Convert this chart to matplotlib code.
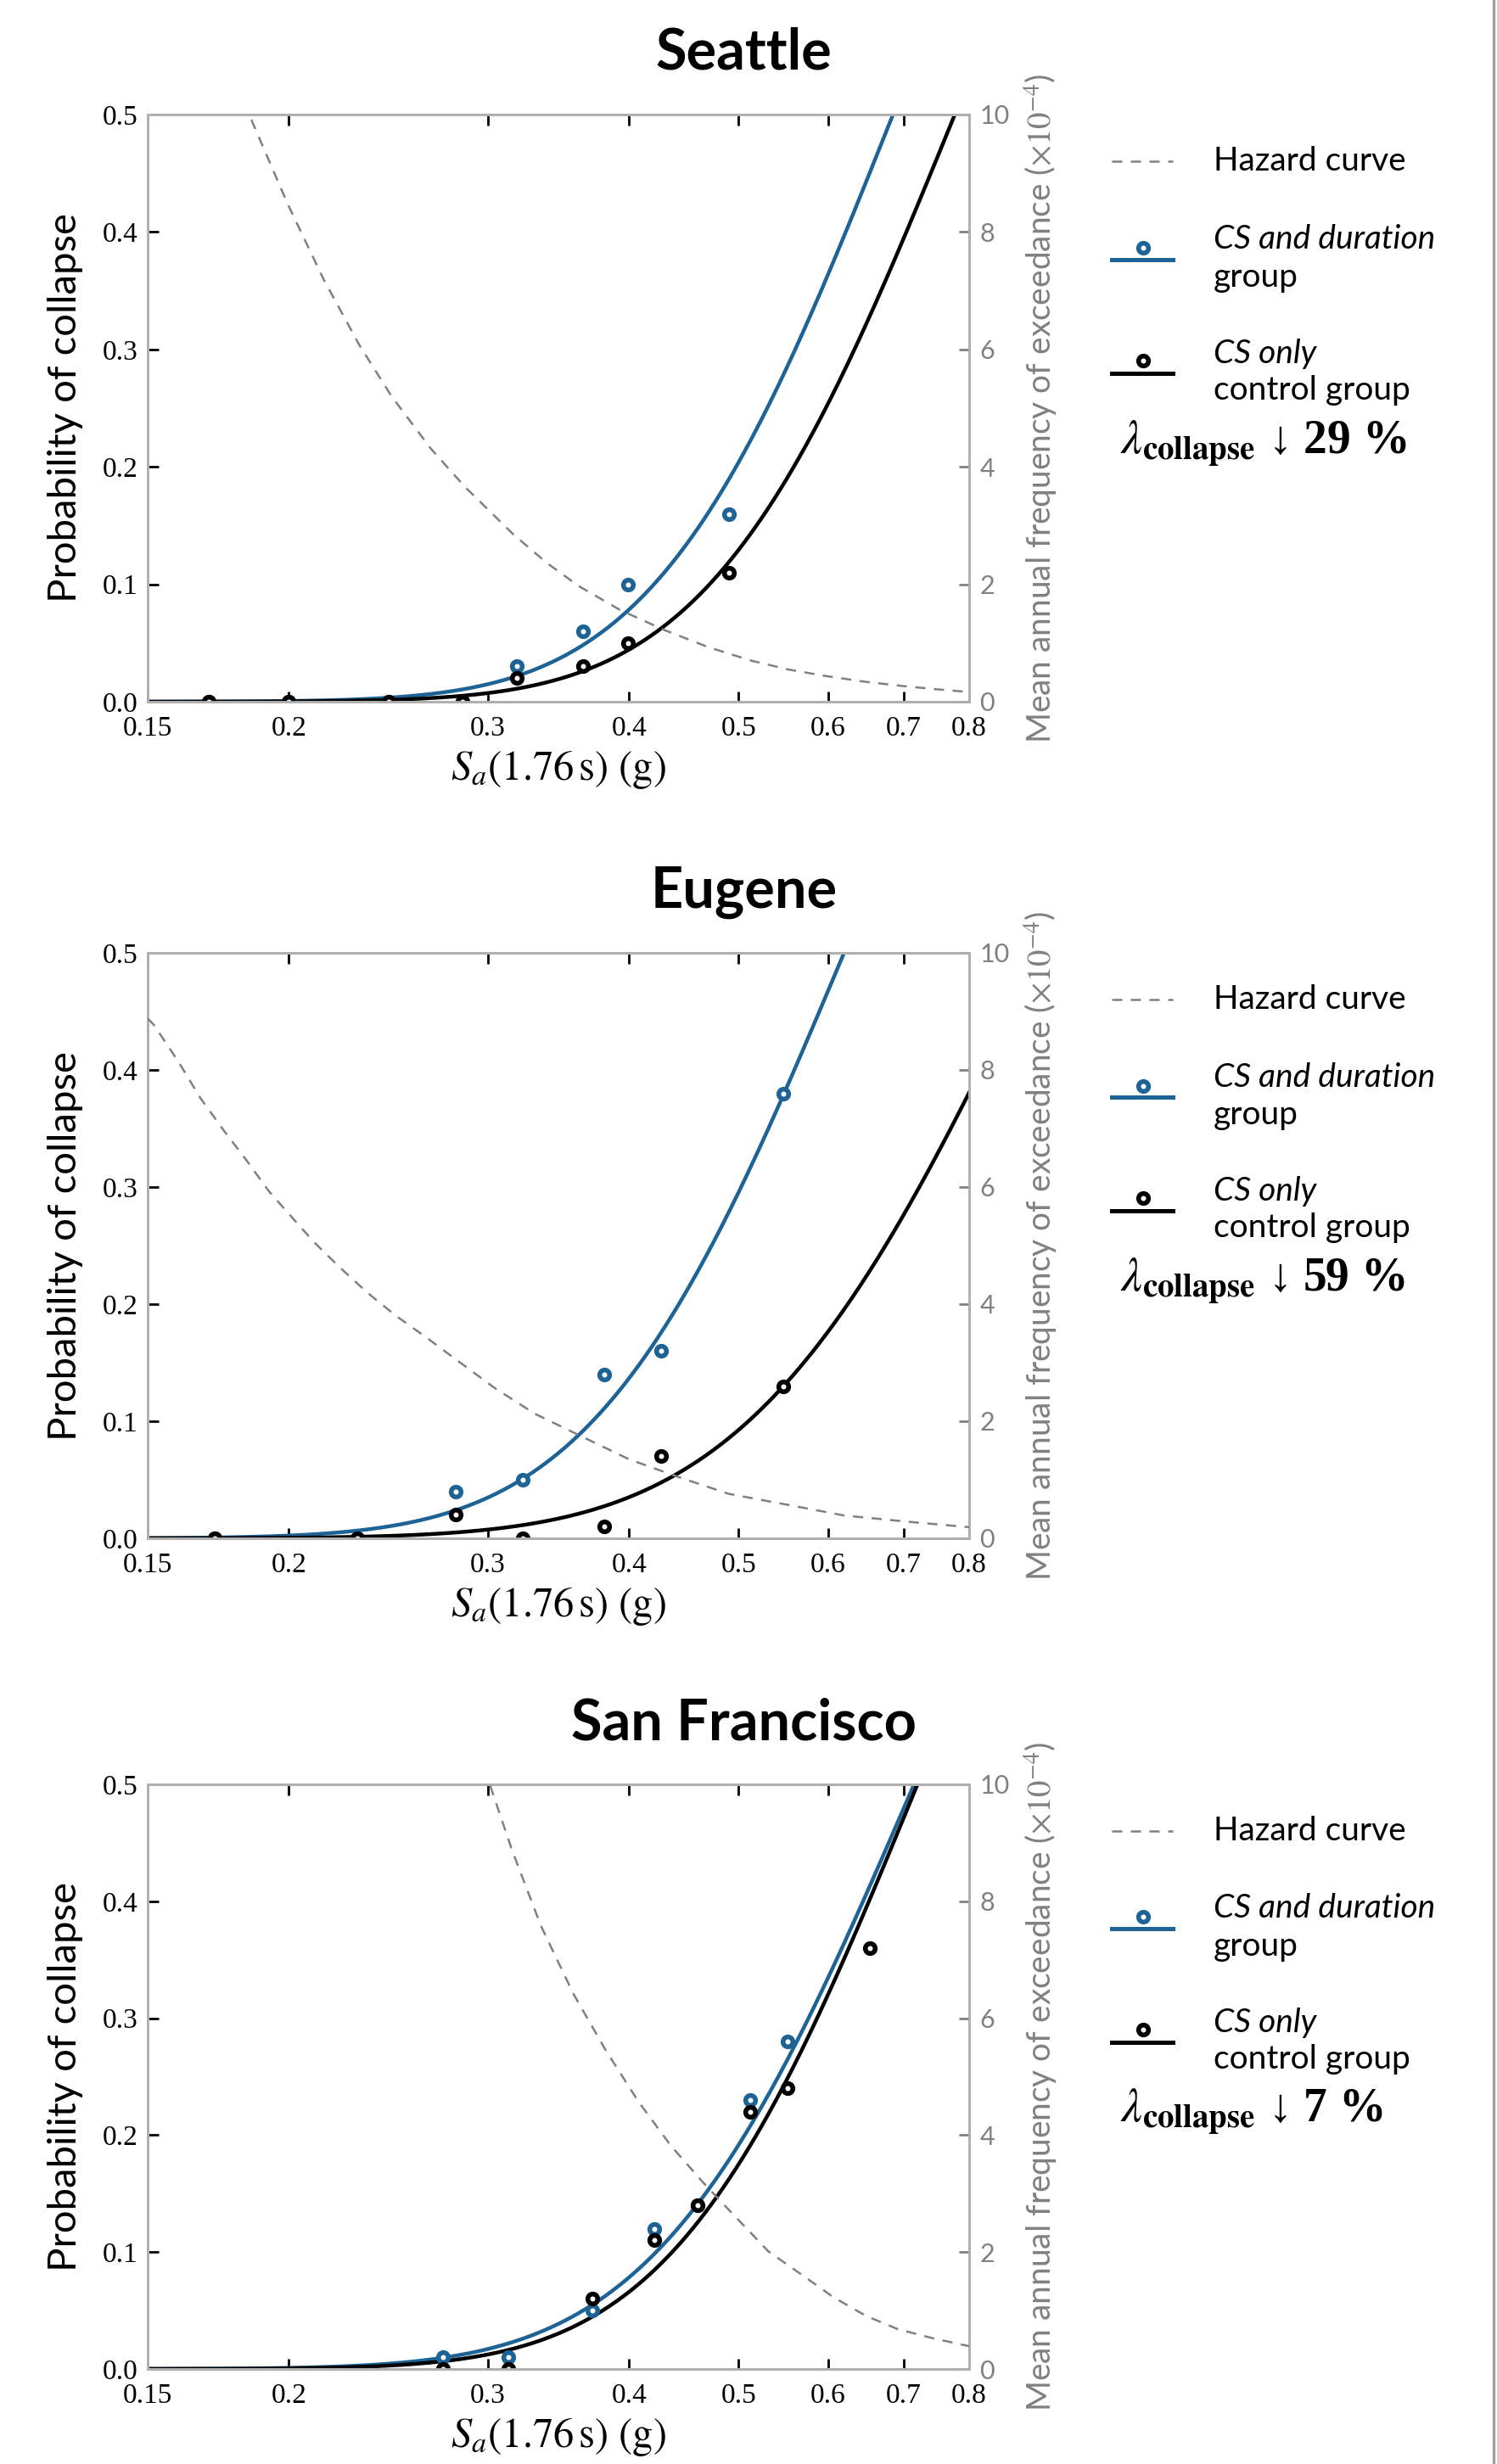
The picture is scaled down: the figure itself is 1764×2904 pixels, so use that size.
import math
import numpy as np
import matplotlib
matplotlib.use("Agg")
import matplotlib.pyplot as plt
from matplotlib.lines import Line2D

# ---- data ----
cities = ["Seattle", "Eugene", "San Francisco"]
reductions = ["29", "59", "7"]

# Sa(1.76 s) levels and observed collapse fractions
sea_sa_dur = [0.17, 0.20, 0.245, 0.285, 0.318, 0.364, 0.399, 0.49]
sea_pc_dur = [0.0, 0.0, 0.0, 0.0, 0.03, 0.06, 0.10, 0.16]
sea_sa_cs = [0.17, 0.20, 0.245, 0.285, 0.318, 0.364, 0.399, 0.49]
sea_pc_cs = [0.0, 0.0, 0.0, 0.0, 0.02, 0.03, 0.05, 0.11]

eug_sa_dur = [0.172, 0.230, 0.281, 0.322, 0.380, 0.427, 0.548]
eug_pc_dur = [0.0, 0.0, 0.04, 0.05, 0.14, 0.16, 0.38]
eug_sa_cs = [0.172, 0.230, 0.281, 0.322, 0.380, 0.427, 0.548]
eug_pc_cs = [0.0, 0.0, 0.02, 0.0, 0.01, 0.07, 0.13]

sf_sa_dur = [0.274, 0.313, 0.371, 0.421, 0.460, 0.512, 0.553]
sf_pc_dur = [0.01, 0.01, 0.05, 0.12, 0.14, 0.23, 0.28]
sf_sa_cs = [0.274, 0.313, 0.371, 0.421, 0.460, 0.512, 0.553, 0.653]
sf_pc_cs = [0.0, 0.0, 0.06, 0.11, 0.14, 0.22, 0.24, 0.36]

# fitted lognormal fragility (median, dispersion)
sea_fit_dur = (0.685, 0.38)
sea_fit_cs = (0.777, 0.39)
eug_fit_dur = (0.620, 0.40)
eug_fit_cs = (0.920, 0.46)
sf_fit_dur = (0.715, 0.41)
sf_fit_cs = (0.720, 0.39)

# seismic hazard curves, mean annual frequency of exceedance (x 1e-4)
sea_haz_sa = [0.180, 0.1854, 0.1995, 0.2146, 0.2308, 0.2466, 0.2671, 0.2863,
              0.316, 0.338, 0.361, 0.393, 0.430, 0.470, 0.513, 0.553,
              0.596, 0.647, 0.700, 0.750, 0.800]
sea_haz_rate = [10.5, 9.90, 8.48, 7.20, 6.08, 5.20, 4.31, 3.66,
                2.85, 2.37, 1.97, 1.56, 1.22, 0.93, 0.70, 0.55,
                0.44, 0.34, 0.265, 0.21, 0.165]
eug_haz_sa = [0.150, 0.1519, 0.1596, 0.167, 0.1751, 0.1834, 0.1920, 0.2011,
              0.2105, 0.2218, 0.2349, 0.2488, 0.2651, 0.2809, 0.3046, 0.330,
              0.365, 0.400, 0.445, 0.490, 0.543, 0.620, 0.709, 0.800]
eug_haz_rate = [8.88, 8.77, 8.15, 7.52, 6.97, 6.46, 5.93, 5.49,
                5.06, 4.63, 4.19, 3.80, 3.42, 3.06, 2.56, 2.13,
                1.72, 1.35, 1.03, 0.76, 0.60, 0.39, 0.28, 0.19]
sf_haz_sa = [0.296, 0.3018, 0.3151, 0.3343, 0.3573, 0.3818, 0.4079, 0.4356,
             0.4657, 0.4976, 0.5315, 0.568, 0.6065, 0.648, 0.692, 0.745, 0.800]
sf_haz_rate = [10.6, 9.95, 8.88, 7.58, 6.41, 5.44, 4.57, 3.82,
               3.18, 2.59, 2.01, 1.62, 1.23, 0.91, 0.68, 0.52, 0.39]

x_ticks = [0.15, 0.2, 0.3, 0.4, 0.5, 0.6, 0.7, 0.8]
x_tick_labels = ["0.15", "0.2", "0.3", "0.4", "0.5", "0.6", "0.7", "0.8"]
y_ticks = [0.0, 0.1, 0.2, 0.3, 0.4, 0.5]
y2_ticks = [0, 2, 4, 6, 8, 10]

panels = [
    (sea_sa_dur, sea_pc_dur, sea_sa_cs, sea_pc_cs, sea_fit_dur, sea_fit_cs, sea_haz_sa, sea_haz_rate),
    (eug_sa_dur, eug_pc_dur, eug_sa_cs, eug_pc_cs, eug_fit_dur, eug_fit_cs, eug_haz_sa, eug_haz_rate),
    (sf_sa_dur, sf_pc_dur, sf_sa_cs, sf_pc_cs, sf_fit_dur, sf_fit_cs, sf_haz_sa, sf_haz_rate),
]

BLUE = "#1d6396"
GRAY = "#808080"
SPINE = "#b0b0b0"
SERIF = ["Liberation Serif", "DejaVu Serif"]

plt.rcParams["font.family"] = ["Lato", "DejaVu Sans"]
plt.rcParams["mathtext.fontset"] = "stix"


def fragility(sa, median, beta):
    return [0.5 * (1 + math.erf(math.log(s / median) / (beta * math.sqrt(2)))) for s in sa]


W, H = 1764, 2904
fig = plt.figure(figsize=(W / 200, H / 200), dpi=200)
fig.patch.set_facecolor("white")

ax_left, ax_right = 174, 1142
tops = [135, 1123, 2103]
bottoms = [827, 1813, 2792]

sa_grid = np.geomspace(0.15, 0.8, 400)

for i, city in enumerate(cities):
    sa_d, pc_d, sa_c, pc_c, fit_d, fit_c, haz_sa, haz_rate = panels[i]
    rect = [ax_left / W, 1 - bottoms[i] / H, (ax_right - ax_left) / W, (bottoms[i] - tops[i]) / H]
    ax = fig.add_axes(rect)
    ax.set_xscale("log")
    ax.set_xlim(0.15, 0.8)
    ax.set_ylim(0, 0.5)

    ax.plot(sa_grid, fragility(sa_grid, *fit_d), color=BLUE, lw=1.6, zorder=2)
    ax.plot(sa_grid, fragility(sa_grid, *fit_c), color="black", lw=1.6, zorder=2)
    ax.plot(sa_d, pc_d, "o", ms=4.2, mew=2.0, mfc="white", mec=BLUE, zorder=3)
    ax.plot(sa_c, pc_c, "o", ms=4.2, mew=2.0, mfc="white", mec="black", zorder=4)

    ax.set_xticks(x_ticks)
    ax.set_xticklabels(x_tick_labels, fontfamily=SERIF, fontsize=12)
    ax.minorticks_off()
    ax.set_yticks(y_ticks)
    ax.set_yticklabels(["%.1f" % v for v in y_ticks], fontfamily=SERIF, fontsize=12)
    ax.tick_params(axis="x", which="both", direction="in", top=True, bottom=True,
                   length=4.5, width=1.0, color="black", pad=6)
    ax.tick_params(axis="y", direction="in", left=True, right=False,
                   length=4.5, width=1.0, color="black", pad=4)
    for sp in ax.spines.values():
        sp.set_color(SPINE)
        sp.set_linewidth(1.0)

    ax.set_ylabel("Probability of collapse", fontsize=17)
    ax.yaxis.set_label_coords(-0.078, 0.5)
    ax.set_xlabel(r"$S_a(1.76\,\mathrm{s})\ \mathrm{(g)}$", fontsize=17.5)
    ax.xaxis.set_label_coords(0.5, -0.08)

    ax2 = ax.twinx()
    ax2.set_ylim(0, 10)
    ax2.plot(haz_sa, haz_rate, color=GRAY, lw=0.9, dashes=(4.8, 4.0), zorder=5)
    ax2.set_yticks(y2_ticks)
    ax2.set_yticklabels([str(v) for v in y2_ticks], fontsize=11, color=GRAY)
    ax2.tick_params(axis="y", direction="in", length=4.5, width=1.0, color=GRAY, pad=4.5)
    for sp in ax2.spines.values():
        sp.set_color(SPINE)
        sp.set_linewidth(1.0)
    ax2.set_ylabel(r"Mean annual frequency of exceedance ($\times 10^{-4}$)",
                   fontsize=14, color=GRAY)
    ax2.yaxis.set_label_coords(1.064, 0.5)

    # title
    ax.text(0.726, 1 + 53 / 692, city, transform=ax.transAxes, ha="center",
            va="baseline", fontsize=24, fontweight="bold")

    # legend drawn by hand beside the panel
    tr = ax.transAxes
    fig.add_artist(Line2D([1.1736, 1.2479], [0.9205, 0.9205], transform=tr,
                          color=GRAY, lw=0.9, dashes=(4.8, 4.0)))
    ax.text(1.2975, 0.9205, "Hazard curve", transform=tr, va="center", fontsize=14)

    fig.add_artist(Line2D([1.1736, 1.2479], [0.7529, 0.7529], transform=tr,
                          color=BLUE, lw=1.8))
    fig.add_artist(Line2D([1.2118], [0.7731], transform=tr, marker="o", ms=4.2,
                          mew=2.0, mfc="white", mec=BLUE, ls="none"))
    ax.text(1.2975, 0.7876, "CS and duration", transform=tr, va="center",
            fontsize=14, fontstyle="italic")
    ax.text(1.2975, 0.7225, "group", transform=tr, va="center", fontsize=14)

    fig.add_artist(Line2D([1.1736, 1.2479], [0.5592, 0.5592], transform=tr,
                          color="black", lw=1.8))
    fig.add_artist(Line2D([1.2118], [0.5809], transform=tr, marker="o", ms=4.2,
                          mew=2.0, mfc="white", mec="black", ls="none"))
    ax.text(1.2975, 0.5925, "CS only", transform=tr, va="center",
            fontsize=14, fontstyle="italic")
    ax.text(1.2975, 0.5303, "control group", transform=tr, va="center", fontsize=14)

    ax.text(1.184, 0.4393, r"$\lambda_{\mathbf{collapse}}$ ↓ " + reductions[i] + " %",
            transform=tr, va="center", ha="left", fontsize=20, fontweight="bold",
            fontfamily=SERIF)

# page border on the right
fig.add_artist(Line2D([0.9977, 0.9977], [0, 1], transform=fig.transFigure,
                      color="#a0a0a0", lw=1.2))

fig.savefig("out.png", dpi=200, facecolor="white")
